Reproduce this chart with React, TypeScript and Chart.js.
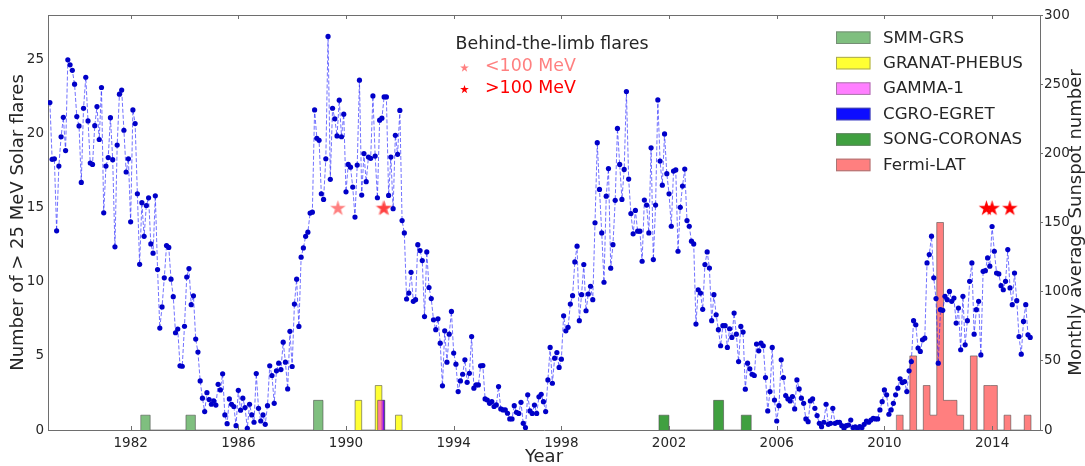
import React, { useEffect, useRef } from 'react';
import { Chart, registerables } from 'chart.js';

Chart.register(...registerables);

// ---------------- data ----------------
// Monthly average sunspot number, one value per month starting January 1979
const SUNSPOT_START_YEAR = 1979;
const sunspotMonthly: number[] = [
  236.7, 195.7, 196, 144, 190.8, 212, 226, 202, 267.6, 264, 260, 250, 226.6, 219.8, 179, 232.6, 255, 223.4, 193, 192,
  220, 233.8, 210, 247.6, 157, 190.8, 196.9, 225.8, 195.4, 132.4, 206, 242.8, 245.7, 216.7, 186.5, 196, 150.5, 231.4, 221.5, 170.8,
  119.8, 164.3, 140, 162.3, 167.9, 134.5, 127.8, 169.3, 116, 73.7, 89, 110, 133.3, 132, 109, 96.4, 70.3, 73, 46.4, 46.1,
  75, 110.6, 116.7, 90.6, 97, 65.7, 56.3, 35.5, 23, 13.3, 27, 22, 18.6, 21, 18,
  33, 29, 40.6, 10.9, 4.6, 22.5, 18.6, 17, 3.1, 28.7, 14.3, 23, 16.2, 1.2, 18.6, 10.9, 5.6, 40.8, 15.7, 6.5,
  10.9, 4.1, 17.6, 46.4, 39.4, 19.3, 42.8, 48.3, 43.7, 63.5, 49, 29.7, 71.3, 45.9, 91, 109, 74.9, 124.9, 131.6, 140,
  143, 156.8, 157.5, 231.4, 210.9, 209.4, 170.8, 166.7, 196, 284.5, 181.2, 232.6, 225, 212.6, 238.4, 212, 228.3, 172.2, 192, 190,
  175.6, 153.9, 191.5, 252.9, 169.8, 199.8, 179.5, 197.3, 196.4, 241.5, 198, 167.9, 224,
  225.4, 240.8, 240.8, 169.6, 197.3, 160, 213, 199.3, 231, 151.4, 142.5, 94.7, 99, 114, 93, 94.2, 134, 129.7, 122.5, 82,
  128.7, 103, 95, 79.7, 72.5, 80.4, 62.8, 31.9, 71.7, 49, 69.3, 85.7, 55.6, 47.6, 27.8, 35.5, 40.3, 50.7, 34.5, 41,
  67.6, 30.2, 32.6, 32.6, 46.4, 46.6, 22.5, 21.7, 19.3, 20.5, 17, 18.1, 31.4, 15.2, 14.5, 14.5, 12.1, 8, 8, 17.6,
  12.8, 12, 20, 4.8, 1.7, 25.4, 13.8, 12, 18, 12, 24, 25.8, 20.5,
  13.3, 36.2, 59.7, 33.8, 51.9, 56, 45.2, 51.2, 82.6, 71.7, 74.2, 91, 97.1, 121.5, 132.9, 79, 97.8, 119.6, 86.2, 98.3,
  103.9, 94.2, 149.8, 207.7, 173.9, 142.5, 106.8, 169, 189, 117, 134, 166, 218, 192, 166.7, 188.4, 244.7, 181.4, 156.5, 141.8,
  158.7, 143.7, 143.7, 122, 166.2, 162.6, 142.5, 204, 123.2, 162.6, 238.6, 194.4, 177, 214, 185.3, 170.8, 147.3, 187.2, 188, 129.2,
  161, 176.3, 188.6, 151.4, 147.3, 136.5, 134.5, 76.6, 101.4, 99, 87.2, 119.6, 128.7, 117.1, 79,
  97.8, 83.3, 72.5, 60.9, 75.4, 75.4, 59.7, 73.2, 66.9, 84.5, 69.3, 49.5, 74.9, 70.8, 29.5, 48.3, 44.2, 40.3, 39.4, 62.1,
  57.2, 62.8, 60.9, 37.9, 13.8, 27.8, 59.7, 21.7, 6.5, 17.6, 50.7, 37.9, 24.9, 22.5, 21, 24.2, 15.2, 36.2, 29.7, 23,
  19.3, 8, 6, 21, 22.5, 15.7, 10.4, 4.8, 2.4, 5.6, 18.6, 4.1, 4.8, 15.7, 4.8, 5.6, 5.6, 3.1, 1.2, 3.1,
  3.6, 7.2, 1.7, 2.2, 1.2, 2.4, 1.7, 4.1, 6.5, 5.6, 7.2, 8.5, 8,
  8, 14.5, 20.5, 29, 25.4, 11.4, 14.5, 19.3, 25.4, 30.2, 37, 34.3, 35, 27.8, 42.8, 49.5, 79, 76.1, 59.2, 56.8,
  65.2, 66.4, 120.8, 126.8, 140.1, 110, 95, 48.3, 87, 86.5, 96.6, 94.2, 100.2, 93, 95.4, 77.3, 88.2, 58, 96.6, 61.6,
  79, 107.5, 120.8, 69.3, 87, 93, 54.3, 114.7, 115.2, 124.4, 118.4, 147.1, 129.2, 113.5, 112.8, 104.3, 101.4, 107.5, 130.4, 102.7,
  90.6, 113.5, 93.5, 67.6, 54.8, 78.5, 90.6, 68.8, 66.9,
];

// Flare counts per instrument: histogram bin centre (year) and count
const smmYears = [1982.55, 1984.23, 1988.97];
const smmCounts = [1, 1, 2];
const granatYears = [1990.46, 1991.21, 1991.96];
const granatCounts = [2, 3, 1];
const gammaYears = [1991.3];
const gammaCounts = [2];
const egretYears = [1991.4];
const egretCounts = [2];
const coronasYears = [2001.81, 2003.84, 2004.87];
const coronasCounts = [1, 2, 1];
const fermiYears = [2010.57, 2011.07, 2011.57, 2011.82, 2012.07, 2012.32, 2012.57, 2012.82, 2013.32, 2013.82, 2014.07, 2014.57, 2015.32];
const fermiCounts = [1, 5, 3, 1, 14, 2, 2, 1, 5, 3, 3, 1, 1];

// Behind-the-limb flares (drawn at a fixed level on the left axis)
const btlLowYears = [1989.7, 1991.38, 1991.43];
const btlHighYears = [2013.79, 2014.0, 2014.66];
const BTL_LEVEL = 15;

// Axis ticks / labels
const xTickYears = [1982, 1986, 1990, 1994, 1998, 2002, 2006, 2010, 2014];
const leftTicks = [0, 5, 10, 15, 20, 25];
const rightTicks = [0, 50, 100, 150, 200, 250, 300];
const X_MIN = 1978.93;
const X_MAX = 2015.78;
const LEFT_MAX = 28;
const RIGHT_MAX = 300;

const instrumentNames = ['SMM-GRS', 'GRANAT-PHEBUS', 'GAMMA-1', 'CGRO-EGRET', 'SONG-CORONAS', 'Fermi-LAT'];
const btlTitle = 'Behind-the-limb flares';
const btlLabels = ['<100 MeV', '>100 MeV'];
const xTitle = 'Year';
const leftTitle = 'Number of > 25 MeV Solar flares';
const rightTitle = 'Monthly average Sunspot number';

// ---------------- styles ----------------
const FONT = "'DejaVu Sans', 'Liberation Sans', sans-serif";
const TXT = '#262626';
const AXIS = '#6e6e6e';
const C_SMM = 'rgba(0,128,0,0.5)';
const C_GRANAT = 'rgba(255,255,0,0.8)';
const C_GAMMA = 'rgba(255,0,255,0.5)';
const C_EGRET = 'rgba(0,0,255,0.95)';
const C_CORONAS = 'rgba(0,128,0,0.75)';
const C_FERMI = 'rgba(255,0,0,0.5)';
const instrumentColors = [C_SMM, C_GRANAT, C_GAMMA, C_EGRET, C_CORONAS, C_FERMI];
const STAR_LOW = 'rgba(255,0,0,0.5)';
const STAR_HIGH = '#ff0000';

function starPath(g: CanvasRenderingContext2D, cx: number, cy: number, R: number) {
  const r = R * 0.382;
  g.beginPath();
  for (let k = 0; k < 10; k++) {
    const rad = k % 2 === 0 ? R : r;
    const a = -Math.PI / 2 + (k * Math.PI) / 5;
    const px = cx + rad * Math.cos(a);
    const py = cy + rad * Math.sin(a);
    if (k === 0) g.moveTo(px, py);
    else g.lineTo(px, py);
  }
  g.closePath();
}

function makeStar(fill: string, R: number): HTMLCanvasElement {
  const c = document.createElement('canvas');
  const s = Math.ceil(2 * R + 2);
  c.width = s;
  c.height = s;
  const g = c.getContext('2d')!;
  starPath(g, s / 2, s / 2 + R * 0.1, R);
  g.fillStyle = fill;
  g.fill();
  return c;
}

// Build the outline of a "stepfilled" histogram from bin centres/counts
function stepPoints(centers: number[], counts: number[], width: number) {
  const pts: { x: number; y: number }[] = [];
  centers.forEach((c, i) => {
    const l = c - width / 2;
    const r = c + width / 2;
    const prev = pts.length ? pts[pts.length - 1] : null;
    if (prev && Math.abs(prev.x - l) < 0.02) {
      pts.pop();
    } else {
      pts.push({ x: l, y: 0 });
    }
    pts.push({ x: l, y: counts[i] });
    pts.push({ x: r, y: 0 });
  });
  return pts;
}

export default function App() {
  const ref = useRef<HTMLCanvasElement | null>(null);

  useEffect(() => {
    if (!ref.current) return;
    const starLow = makeStar(STAR_LOW, 8.2);
    const starHigh = makeStar(STAR_HIGH, 8.2);

    const sunspotData = sunspotMonthly.map((v, i) => ({ x: SUNSPOT_START_YEAR + i / 12, y: v }));

    const histDs = (label: string, xs: number[], ys: number[], width: number, color: string, order: number) => ({
      type: 'line' as const,
      label,
      data: stepPoints(xs, ys, width),
      stepped: 'before',
      fill: 'origin',
      backgroundColor: color,
      borderColor: 'rgba(70,70,70,0.55)',
      borderWidth: 1,
      pointRadius: 0,
      yAxisID: 'y',
      order,
    });

    const customDraw = {
      id: 'customDraw',
      afterDraw(chart: any) {
        const ctx: CanvasRenderingContext2D = chart.ctx;
        const { top, bottom, left, right } = chart.chartArea;
        const xs = chart.scales.x;
        ctx.save();
        // top frame
        ctx.strokeStyle = AXIS;
        ctx.lineWidth = 1;
        ctx.beginPath();
        ctx.moveTo(left, top + 0.5);
        ctx.lineTo(right, top + 0.5);
        ctx.stroke();
        // inward x ticks (top & bottom)
        xTickYears.forEach((yr) => {
          const px = Math.round(xs.getPixelForValue(yr)) + 0.5;
          ctx.beginPath();
          ctx.moveTo(px, bottom);
          ctx.lineTo(px, bottom - 4);
          ctx.moveTo(px, top);
          ctx.lineTo(px, top + 4);
          ctx.stroke();
        });

        // instrument legend
        ctx.font = `16.7px ${FONT}`;
        ctx.textBaseline = 'middle';
        ctx.textAlign = 'left';
        instrumentNames.forEach((name, k) => {
          const cy = 37.7 + k * 25.45;
          ctx.fillStyle = '#ffffff';
          ctx.fillRect(836, cy - 6.3, 34.5, 12.6);
          ctx.fillStyle = instrumentColors[k];
          ctx.fillRect(836, cy - 6.3, 34.5, 12.6);
          ctx.strokeStyle = 'rgba(110,110,110,0.6)';
          ctx.strokeRect(836.5, cy - 5.8, 33.5, 11.6);
          ctx.fillStyle = TXT;
          ctx.fillText(name, 883, cy + 0.5);
        });

        // behind-the-limb legend
        ctx.font = `17.4px ${FONT}`;
        ctx.fillStyle = TXT;
        ctx.fillText(btlTitle, 455.5, 44.5);
        const starCols = [STAR_LOW, STAR_HIGH];
        btlLabels.forEach((lab, k) => {
          const cy = 66.5 + k * 21.5;
          starPath(ctx, 464.5, cy + 1.5, 4.6);
          ctx.fillStyle = starCols[k];
          ctx.fill();
          ctx.fillStyle = k === 0 ? 'rgba(255,0,0,0.5)' : '#ff0000';
          ctx.fillText(lab, 485, cy);
        });

        // right axis title (reads bottom to top)
        ctx.font = `18px ${FONT}`;
        ctx.fillStyle = TXT;
        ctx.textAlign = 'center';
        ctx.translate(1076, (top + bottom) / 2);
        ctx.rotate(-Math.PI / 2);
        ctx.fillText(rightTitle, 0, 0);
        ctx.restore();
      },
    };

    const chart = new Chart(ref.current, {
      type: 'line',
      data: {
        datasets: [
          {
            type: 'line' as const,
            label: 'btl-low',
            data: btlLowYears.map((x) => ({ x, y: BTL_LEVEL })),
            showLine: false,
            pointStyle: starLow as any,
            pointRadius: 8,
            yAxisID: 'y',
            order: 0,
          },
          {
            type: 'line' as const,
            label: 'btl-high',
            data: btlHighYears.map((x) => ({ x, y: BTL_LEVEL })),
            showLine: false,
            pointStyle: starHigh as any,
            pointRadius: 8,
            yAxisID: 'y',
            order: -1,
          },
          {
            type: 'line' as const,
            label: 'sunspots',
            data: sunspotData,
            borderColor: 'rgba(20,20,255,0.6)',
            borderWidth: 1,
            borderDash: [4, 2],
            pointRadius: 2.6,
            pointBackgroundColor: '#0000c8',
            pointBorderColor: '#0000c8',
            pointBorderWidth: 0,
            tension: 0,
            fill: false,
            yAxisID: 'y1',
            order: 1,
          },
          histDs('SMM-GRS', smmYears, smmCounts, 0.35, C_SMM, 7),
          histDs('GRANAT-PHEBUS', granatYears, granatCounts, 0.245, C_GRANAT, 6),
          histDs('CGRO-EGRET', egretYears, egretCounts, 0.08, C_EGRET, 5),
          histDs('GAMMA-1', gammaYears, gammaCounts, 0.25, C_GAMMA, 4),
          histDs('SONG-CORONAS', coronasYears, coronasCounts, 0.37, C_CORONAS, 3),
          histDs('Fermi-LAT', fermiYears, fermiCounts, 0.25, C_FERMI, 2),
        ] as any,
      },
      options: {
        animation: false,
        responsive: true,
        maintainAspectRatio: false,
        devicePixelRatio: 1,
        layout: { padding: { top: 15, left: 0, right: 0, bottom: 0 } },
        plugins: { legend: { display: false }, tooltip: { enabled: false } },
        scales: {
          x: {
            type: 'linear',
            position: 'bottom',
            min: X_MIN,
            max: X_MAX,
            offset: false,
            afterBuildTicks: (s: any) => {
              s.ticks = xTickYears.map((v) => ({ value: v }));
            },
            afterFit: (s: any) => {
              s.height = 36;
            },
            grid: { display: false, drawTicks: false },
            border: { display: true, color: AXIS, width: 1 },
            ticks: {
              callback: (v: any) => String(v),
              font: { family: FONT, size: 13.5 },
              color: TXT,
              padding: 5,
              maxRotation: 0,
              autoSkip: false,
            },
            title: {
              display: true,
              text: xTitle,
              font: { family: FONT, size: 18, lineHeight: 1 },
              color: TXT,
              padding: { top: 0, bottom: 0 },
            },
          },
          y: {
            type: 'linear',
            position: 'left',
            min: 0,
            max: LEFT_MAX,
            stacked: false,
            afterBuildTicks: (s: any) => {
              s.ticks = leftTicks.map((v) => ({ value: v }));
            },
            afterFit: (s: any) => {
              s.width = 48;
            },
            grid: { display: false, drawTicks: false },
            border: { display: true, color: AXIS, width: 1 },
            ticks: { font: { family: FONT, size: 13.5 }, color: TXT, padding: 4 },
            title: {
              display: true,
              text: leftTitle,
              font: { family: FONT, size: 18, lineHeight: 1 },
              color: TXT,
              padding: { top: 9, bottom: 0 },
            },
          },
          y1: {
            type: 'linear',
            position: 'right',
            min: 0,
            max: RIGHT_MAX,
            afterBuildTicks: (s: any) => {
              s.ticks = rightTicks.map((v) => ({ value: v }));
            },
            afterFit: (s: any) => {
              s.width = 45;
            },
            grid: { display: true, drawOnChartArea: false, drawTicks: true, tickLength: 3, color: AXIS },
            border: { display: true, color: AXIS, width: 1 },
            ticks: { font: { family: FONT, size: 13.5 }, color: TXT, padding: 1 },
            title: { display: false },
          },
        },
      } as any,
      plugins: [customDraw],
    });
    return () => chart.destroy();
  }, []);

  return (
    <div style={{ position: 'fixed', left: 0, top: 0, width: 1085, height: 466, background: '#fff' }}>
      <canvas ref={ref} />
    </div>
  );
}
